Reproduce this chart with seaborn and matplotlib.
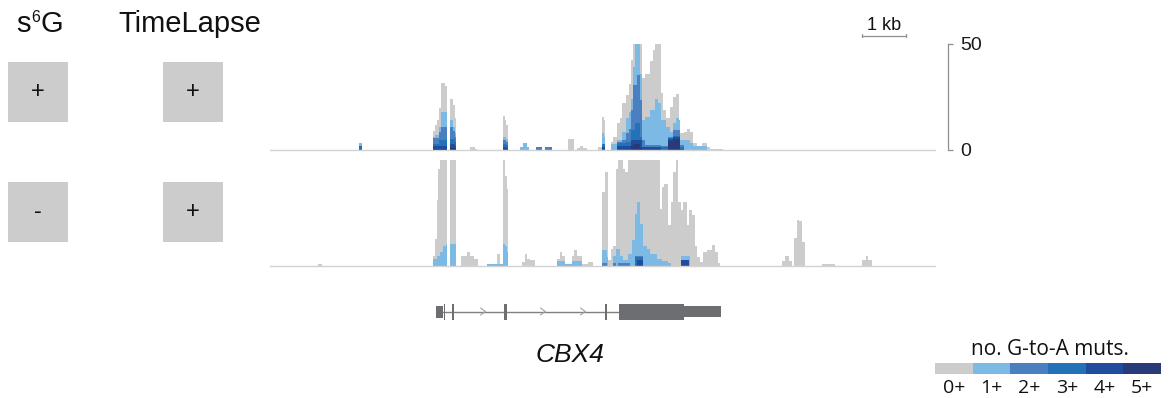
import numpy as np
import matplotlib
matplotlib.use("Agg")
import matplotlib.pyplot as plt
import seaborn as sns
from matplotlib.patches import Rectangle
from matplotlib.colors import ListedColormap

sns.set_theme(style="white")
plt.rcParams["font.family"] = ["Liberation Sans", "DejaVu Sans"]

# ---------------------------------------------------------------- data
REGION_BP = 15110            # width of the displayed window (bp)
SCALE_BP = 1000              # scale bar length
COVERAGE_MAX = 50            # coverage tracks are clipped at this depth

# condition table (s6G, TimeLapse) for each track row
S6G_STATE = ["+", "-"]
TL_STATE = ["+", "+"]

LEGEND_TITLE = "no. G-to-A muts."
LEGEND_LABELS = ["0+", "1+", "2+", "3+", "4+", "5+"]
MUT_LEVELS = [0, 1, 2, 3, 4, 5]
LEVEL_COLORS = ["#cccccc", "#7cb9e4", "#4a7fc0", "#2372b8", "#1f4c9c", "#293a78"]

# s6G +, TimeLapse + : bin edges (bp) and read depth per bin for reads
# carrying >= 0 .. >= 5 G-to-A mutations
TOP_EDGES = [2020, 2080, 3700, 3750, 3800, 3840, 3890, 3980, 4020, 4090,
             4160, 4200, 4230, 4550, 4660, 4700, 5300, 5340, 5360, 5410,
             5680, 5750, 5840, 5890, 6050, 6180, 6250, 6410, 6770, 6910,
             6980, 7050, 7110, 7200, 7450, 7550, 7590, 7610, 7750, 7800,
             7890, 7950, 8000, 8090, 8160, 8200, 8250, 8300, 8340, 8410,
             8450, 8520, 8640, 8700, 8750, 8820, 8890, 8930, 9000, 9050,
             9090, 9160, 9230, 9300, 9320, 9410, 9480, 9550, 9610, 9700,
             9820, 9930, 10000, 10300]
top_0 = [3.5, 0, 9, 12, 14, 20, 31.5, 30, 0, 24,
         21, 15, 0, 1.5, 0.7, 0, 16, 14, 12, 0,
         1.6, 3.5, 1.6, 0, 1.2, 0, 1.2, 0, 5.2, 0,
         1, 1.8, 0.8, 0, 1.5, 15.7, 14, 0, 4, 6.3,
         12.6, 15, 22, 26, 31, 42.5, 50, 50, 50, 50,
         34, 36, 42, 47, 50, 50, 26.7, 19, 15, 15,
         20.4, 25, 26.4, 14, 7.9, 8.6, 9.7, 8.6, 3.1, 1.9,
         3.1, 1.3, 0.6]
top_1 = [3.5, 0, 6, 7, 7, 11, 18, 18, 0, 14,
         11, 8, 0, 0, 0, 0, 6, 6, 5, 0,
         1.6, 3.5, 1.6, 0, 1.2, 0, 1.2, 0, 0, 0,
         0, 0, 0, 0, 0, 8.2, 6.3, 0, 3, 3,
         4.7, 4.7, 8.6, 15, 18, 24, 39, 50, 50, 36,
         14, 15.7, 19, 19, 24, 22, 14, 14, 11, 11,
         8.6, 12.6, 15, 14, 4.7, 4.7, 4.7, 3.1, 1.9, 1.9,
         1.9, 0, 0]
top_2 = [2, 0, 5.5, 5.5, 5.5, 8.5, 11, 11, 0, 11,
         9, 6, 0, 0, 0, 0, 4.5, 4.5, 4, 0,
         0, 0, 0, 0, 1.2, 0, 1.2, 0, 0, 0,
         0, 0, 0, 0, 0, 3, 3, 0, 0, 0,
         4, 4, 4.7, 7.9, 10, 19, 30.7, 30.7, 35.4, 23.6,
         4.7, 2.4, 2.4, 2.4, 2.4, 2.4, 1.9, 1.9, 1.9, 6.3,
         6.3, 9.4, 9.4, 9.4, 2.4, 0, 0, 0, 0, 0,
         0, 0, 0]
top_3 = [2, 0, 3, 3, 3, 4.5, 4.5, 4.5, 0, 5,
         5, 4, 0, 0, 0, 0, 3, 3, 2.5, 0,
         0, 0, 0, 0, 0, 0, 0, 0, 0, 0,
         0, 0, 0, 0, 0, 2.8, 2.8, 0, 0, 0,
         3.1, 3.1, 3.1, 4, 4, 9.4, 9.4, 12.6, 12.6, 6.3,
         1.6, 1.6, 1.6, 1.6, 1.6, 1.6, 1.6, 1.6, 1.6, 5.5,
         5.5, 6.5, 6.5, 6.5, 1.6, 0, 0, 0, 0, 0,
         0, 0, 0]
top_4 = [0, 0, 2, 2, 2, 2, 2, 2, 0, 3,
         3, 2, 0, 0, 0, 0, 1.5, 1.5, 1, 0,
         0, 0, 0, 0, 0, 0, 0, 0, 0, 0,
         0, 0, 0, 0, 0, 1.6, 1.6, 0, 0, 0,
         1.9, 1.9, 1.9, 1.9, 1.9, 4.7, 4.7, 4.7, 4.7, 4.7,
         1.3, 1.3, 1.3, 1.3, 1.3, 1.3, 0, 0, 0, 5,
         5, 6, 6, 6, 0.5, 0, 0, 0, 0, 0,
         0, 0, 0]
top_5 = [0, 0, 0.5, 0.5, 0.5, 0.5, 0.5, 0.5, 0, 1,
         1, 0.5, 0, 0, 0, 0, 0, 0, 0, 0,
         0, 0, 0, 0, 0, 0, 0, 0, 0, 0,
         0, 0, 0, 0, 0, 0, 0, 0, 0, 0,
         0, 0, 0, 0, 0, 2, 2.8, 2.8, 2.8, 1,
         0, 0, 0, 0, 0, 0, 0, 0, 0, 4.4,
         4.4, 5, 5, 5, 0, 0, 0, 0, 0, 0,
         0, 0, 0]

# s6G -, TimeLapse +
BOT_EDGES = [1090, 1180, 3700, 3750, 3800, 3820, 3860, 3930, 4000, 4020,
             4090, 4230, 4340, 4480, 4550, 4640, 4730, 4930, 5160, 5230,
             5300, 5340, 5390, 5410, 5730, 5800, 5840, 5910, 6020, 6520,
             6590, 6640, 6700, 6860, 6910, 6980, 7090, 7230, 7340, 7550,
             7610, 7660, 7680, 7750, 7800, 7860, 7910, 7950, 8020, 8070,
             8140, 8180, 8230, 8300, 8340, 8410, 8480, 8570, 8640, 8800,
             8860, 8910, 8950, 9050, 9110, 9160, 9230, 9270, 9340, 9390,
             9480, 9520, 9550, 9590, 9660, 9700, 9770, 9840, 9930, 10050,
             10110, 10180, 10230, 11640, 11700, 11800, 11860, 11910, 11980, 12020,
             12090, 12160, 12550, 12840, 13450, 13550, 13590, 13680]
bot_0 = [0.7, 0, 4.7, 12.6, 31, 45.6, 50, 50, 50, 0,
         50, 0, 4.7, 6.3, 4.7, 3.1, 0, 0.8, 5.5, 0.8,
         50, 42, 36, 0, 1.6, 5.5, 3.1, 2.8, 0, 3.1,
         6.3, 4.7, 0.8, 4.7, 7.5, 4.7, 0.8, 1.6, 0, 34.6,
         44, 44, 2.4, 7.9, 9.4, 45.6, 50, 50, 45.6, 44,
         50, 50, 50, 50, 50, 50, 50, 50, 50, 50,
         26.7, 37, 38.5, 18.9, 30, 44, 50, 30, 26, 30,
         18.9, 26, 26, 23.6, 9.4, 3.9, 1.6, 6.3, 7.5, 9.7,
         6.3, 1, 0, 1.9, 4.6, 1.9, 0, 12.9, 21.5, 20.8,
         11.3, 0, 0.8, 0, 2.4, 4.6, 2.4]
bot_1 = [0, 0, 3.1, 3.1, 4.7, 4.7, 6.3, 9.4, 10.2, 0,
         10.2, 0, 0, 0, 0, 0, 0, 0.8, 0.8, 0.8,
         10.2, 9.4, 6.3, 0, 0, 0, 0, 0, 0, 1.9,
         1.9, 1.9, 0.8, 1.9, 1.9, 1.9, 0, 0, 0, 7.1,
         7.1, 4, 0, 0, 4.7, 7.9, 7.9, 4.7, 2.4, 2.4,
         5.5, 5.5, 11.8, 24.4, 30, 19.7, 9.4, 7.9, 5.5, 3.1,
         3.1, 1.9, 1.9, 1.3, 0, 0, 0, 0, 4.7, 4.7,
         4.7, 4.7, 0, 0, 0, 0, 0, 0, 0, 0,
         0, 0, 0, 0, 0, 0, 0, 0, 0, 0,
         0, 0, 0, 0, 0, 0, 0]
bot_2 = [0, 0, 0, 0, 0, 0, 0, 0, 0, 0,
         0, 0, 0, 0, 0, 0, 0, 0, 0, 0,
         0, 0, 0, 0, 0, 0, 0, 0, 0, 0,
         0, 0, 0, 0, 0, 0, 0, 0, 0, 1.3,
         1.3, 0, 0, 0, 1.3, 0, 1.3, 1.3, 1.3, 1.3,
         1.3, 0, 0, 4.7, 4.7, 4.7, 0, 0, 0, 0,
         0, 0, 0, 0, 0, 0, 0, 0, 2.8, 2.8,
         2.8, 0, 0, 0, 0, 0, 0, 0, 0, 0,
         0, 0, 0, 0, 0, 0, 0, 0, 0, 0,
         0, 0, 0, 0, 0, 0, 0]
bot_3 = [0, 0, 0, 0, 0, 0, 0, 0, 0, 0,
         0, 0, 0, 0, 0, 0, 0, 0, 0, 0,
         0, 0, 0, 0, 0, 0, 0, 0, 0, 0,
         0, 0, 0, 0, 0, 0, 0, 0, 0, 0,
         0, 0, 0, 0, 0, 0, 0, 0, 0, 0,
         0, 0, 0, 4, 4, 4, 0, 0, 0, 0,
         0, 0, 0, 0, 0, 0, 0, 0, 2.4, 2.4,
         2.4, 0, 0, 0, 0, 0, 0, 0, 0, 0,
         0, 0, 0, 0, 0, 0, 0, 0, 0, 0,
         0, 0, 0, 0, 0, 0, 0]
bot_4 = [0, 0, 0, 0, 0, 0, 0, 0, 0, 0,
         0, 0, 0, 0, 0, 0, 0, 0, 0, 0,
         0, 0, 0, 0, 0, 0, 0, 0, 0, 0,
         0, 0, 0, 0, 0, 0, 0, 0, 0, 0,
         0, 0, 0, 0, 0, 0, 0, 0, 0, 0,
         0, 0, 0, 0, 2.4, 2.4, 0, 0, 0, 0,
         0, 0, 0, 0, 0, 0, 0, 0, 2.4, 2.4,
         2.4, 0, 0, 0, 0, 0, 0, 0, 0, 0,
         0, 0, 0, 0, 0, 0, 0, 0, 0, 0,
         0, 0, 0, 0, 0, 0, 0]

# CBX4 gene model (bp within the window)
GENE_NAME = "CBX4"
EXON_START = [3770, 3950, 4140, 5320, 7610, 7930, 9410]
EXON_END = [3930, 3985, 4170, 5390, 7660, 9410, 10250]
EXON_HEIGHT = [12, 16, 16, 16, 16, 16, 11]
INTRON_SPAN = [3770, 7930]
STRAND_MARKS = [4840, 6200, 7110]

# ---------------------------------------------------------------- layout
W, H = 1171, 398
fig = plt.figure(figsize=(W / 100, H / 100), dpi=100)


def px_axes(x0, y0, x1, y1):
    """Axes placed by a pixel box measured from the top-left corner."""
    return fig.add_axes([x0 / W, 1 - y1 / H, (x1 - x0) / W, (y1 - y0) / H])


ov = px_axes(0, 0, W, H)
ov.set_xlim(0, W)
ov.set_ylim(H, 0)
ov.axis("off")
ov.patch.set_alpha(0)

# column headers (s6G written as s + superscript 6 + G)
ov.text(16.5, 32, "s", ha="left", va="baseline", fontsize=21, color="#111111")
ov.text(31, 22, "6", ha="left", va="baseline", fontsize=11.5, color="#111111")
ov.text(40.5, 32, "G", ha="left", va="baseline", fontsize=21, color="#111111")
ov.text(190, 32, "TimeLapse", ha="center", va="baseline", fontsize=21, color="#111111")

# condition boxes
for row, (s_state, t_state) in enumerate(zip(S6G_STATE, TL_STATE)):
    y0 = 62 + row * 120
    for x0, state in ((8, s_state), (163, t_state)):
        ov.add_patch(Rectangle((x0, y0), 60, 60, facecolor="#cccccc", edgecolor="none"))
        ov.text(x0 + 30, y0 + 30, state, ha="center", va="center", fontsize=17,
                color="#111111")


def draw_track(ax, edges, levels):
    mids = [(a + b) / 2 for a, b in zip(edges[:-1], edges[1:])]
    for vals, col in zip(levels, LEVEL_COLORS):
        sns.histplot(x=mids, weights=vals, bins=list(edges), element="step",
                     fill=True, color=col, alpha=1, linewidth=0, ax=ax)
    ax.set_xlim(0, REGION_BP)
    ax.set_ylim(0, COVERAGE_MAX)
    ax.set_xlabel("")
    ax.set_ylabel("")
    ax.set_xticks([])
    ax.set_yticks([])
    ax.patch.set_alpha(0)
    for side in ("top", "left", "right"):
        ax.spines[side].set_visible(False)
    ax.spines["bottom"].set_color("#d2d2d2")
    ax.spines["bottom"].set_linewidth(1.0)


ax_top = px_axes(270, 44, 935, 150)
draw_track(ax_top, TOP_EDGES, [top_0, top_1, top_2, top_3, top_4, top_5])

ax_bot = px_axes(270, 159.5, 935, 265.5)
draw_track(ax_bot, BOT_EDGES, [bot_0, bot_1, bot_2, bot_3, bot_4])

# depth scale on the right of the first track
ax_top.spines["right"].set_visible(True)
ax_top.spines["right"].set_position(("outward", 9.4))
ax_top.spines["right"].set_color("#8f8f8f")
ax_top.spines["right"].set_linewidth(0.9)
ax_top.yaxis.set_ticks_position("right")
ax_top.set_yticks([0, COVERAGE_MAX])
ax_top.set_yticklabels(["0", str(COVERAGE_MAX)])
ax_top.tick_params(axis="y", which="major", right=True, left=False, labelright=True,
                   labelleft=False, direction="out", length=3.6, width=0.9,
                   color="#8f8f8f", labelsize=14, labelcolor="#1a1a1a", pad=5.5)

# 1 kb scale bar
sb_x0 = 13450
sb_y = 53.8
ax_top.plot([sb_x0, sb_x0 + SCALE_BP], [sb_y, sb_y], color="#8f8f8f", lw=0.9,
            clip_on=False)
for xe in (sb_x0, sb_x0 + SCALE_BP):
    ax_top.plot([xe, xe], [sb_y - 0.7, sb_y + 0.7], color="#8f8f8f", lw=0.9,
                clip_on=False)
ax_top.text(sb_x0 + SCALE_BP / 2, sb_y + 0.9, "1 kb", ha="center", va="bottom",
            fontsize=13, color="#111111", clip_on=False)

# gene model
gx = px_axes(270, 289.5, 935, 333.5)
gx.set_xlim(0, REGION_BP)
gx.set_ylim(-22, 22)
gx.axis("off")
gx.patch.set_alpha(0)
gx.plot(INTRON_SPAN, [0, 0], color="#808080", lw=1.0, zorder=1)
for c in STRAND_MARKS:
    gx.plot([c - 55, c + 55, c - 55], [3.5, 0, -3.5], color="#a0a0a0", lw=0.8, zorder=1)
for s, e, h in zip(EXON_START, EXON_END, EXON_HEIGHT):
    gx.add_patch(Rectangle((s, -h / 2), e - s, h, facecolor="#6d6e71",
                           edgecolor="none", zorder=2))
ov.text(570, 362, GENE_NAME, ha="center", va="baseline", fontsize=19,
        style="italic", color="#111111")

# mutation-count colour key
ov.text(1050, 355, LEGEND_TITLE, ha="center", va="baseline", fontsize=15,
        family=["Open Sans", "DejaVu Sans"], color="#111111")
lg = px_axes(935, 363, 1161, 374)
sns.heatmap(np.array([MUT_LEVELS]), cmap=ListedColormap(LEVEL_COLORS), vmin=-0.5,
            vmax=5.5, cbar=False, ax=lg, xticklabels=LEGEND_LABELS,
            yticklabels=False, linewidths=0)
lg.tick_params(axis="x", bottom=False, length=0, pad=3.5, labelsize=14,
               labelcolor="#111111", rotation=0)
for t in lg.get_xticklabels():
    t.set_family(["Open Sans", "DejaVu Sans"])

fig.savefig("out.png", dpi=100)
